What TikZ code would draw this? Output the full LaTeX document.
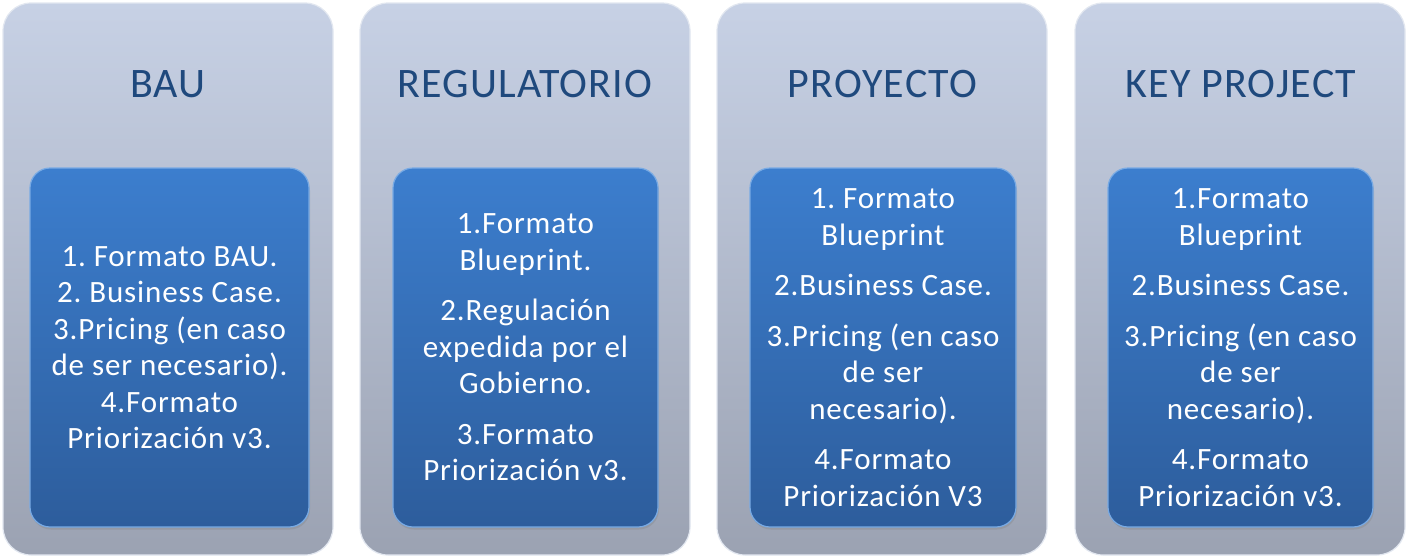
\documentclass[tikz,border=0pt]{standalone}
\usepackage{fontspec}
\setmainfont{Carlito}[LetterSpace=2.8]
\usetikzlibrary{shadows}
\frenchspacing

\begin{document}
\begin{tikzpicture}[
  x=1pt,y=1pt,
  font=\fontsize{31}{36.5}\selectfont,
  panelbox/.style={rounded corners=28pt,minimum width=330pt,minimum height=552pt,
    inner sep=0pt,top color=paneltop,bottom color=panelbot,draw=paneledge,line width=1.2pt},
  headtext/.style={anchor=base,text=heading,font=\fontsize{42}{50}\selectfont},
  itembox/.style={rounded corners=20pt,minimum height=359pt,inner sep=0pt,align=center,
    text=white,top color=itemtop,bottom color=itembot,draw=itemedge,line width=1.2pt,
    drop shadow={opacity=0.3,shadow xshift=1pt,shadow yshift=-2.5pt}}
]
\definecolor{paneltop}{RGB}{199,209,229}
\definecolor{panelbot}{RGB}{155,162,178}
\definecolor{paneledge}{RGB}{226,231,240}
\definecolor{heading}{RGB}{31,73,125}
\definecolor{itemtop}{RGB}{60,126,206}
\definecolor{itembot}{RGB}{45,93,156}
\definecolor{itemedge}{RGB}{120,170,228}

\useasboundingbox (0,0) rectangle (1409,-557);

% Outer panels, one per request type.
\node[panelbox] (bau) at (168,-279) {};
\node[panelbox] (reg) at (525,-279) {};
\node[panelbox] (proy) at (882,-279) {};
\node[panelbox] (key) at (1240,-279) {};

% Panel headings.
\node[headtext] (bauhead) at (168,-97) {BAU};
\node[headtext] (reghead) at (525,-97) {REGULATORIO};
\node[headtext] (proyhead) at (882.5,-97) {PROYECTO};
\node[headtext] (keyhead) at (1241,-97) {KEY PROJECT};

% Required documents for each type.
\node[itembox,minimum width=279pt] (bauitems) at (169.5,-347.5)
  {1. Formato BAU.\\2. Business Case.\\3.Pricing (en caso\\de ser necesario).\\4.Formato\\Priorización v3.};
\node[itembox,minimum width=265pt] (regitems) at (525.5,-347.5)
  {1.Formato\\Blueprint.\\[14pt]2.Regulación\\expedida por el\\Gobierno.\\[14pt]3.Formato\\Priorización v3.};
\node[itembox,minimum width=266pt] (proyitems) at (883,-347.5)
  {1. Formato\\Blueprint\\[14pt]2.Business Case.\\[14pt]3.Pricing (en caso\\de ser\\necesario).\\[14pt]4.Formato\\Priorización V3};
\node[itembox,minimum width=265pt] (keyitems) at (1240.5,-347.5)
  {1.Formato\\Blueprint\\[14pt]2.Business Case.\\[14pt]3.Pricing (en caso\\de ser\\necesario).\\[14pt]4.Formato\\Priorización v3.};
\end{tikzpicture}
\end{document}
